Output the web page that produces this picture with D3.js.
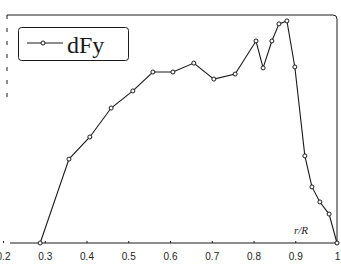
<!DOCTYPE html>
<html><head><meta charset="utf-8">
<script src="https://cdn.jsdelivr.net/npm/d3@7"></script>
<style>html,body{margin:0;padding:0;background:#fff;}</style>
</head><body><svg id="c" width="341" height="270"></svg>
<script>
const rValues = [0.289,0.358,0.408,0.459,0.511,0.559,0.607,0.657,0.705,0.756,0.806,0.823,0.844,0.861,0.880,0.899,0.923,0.940,0.959,0.981,1.0];
const dFyValues = [0,0.368,0.465,0.592,0.667,0.75,0.75,0.789,0.719,0.741,0.886,0.768,0.886,0.961,0.974,0.772,0.382,0.246,0.18,0.127,0];
const tickValues = [0.2,0.3,0.4,0.5,0.6,0.7,0.8,0.9,1];
const tickLabels = ["0.2","0.3","0.4","0.5","0.6","0.7","0.8","0.9","1"];
const seriesName = "dFy";
const xTitle = "r/R";

const svg = d3.select("#c");
const x = d3.scaleLinear().domain([0.2,1]).range([3,337]);
const y = d3.scaleLinear().domain([0,1]).range([243,15]);
const ink = "#1a1a1a";

// frame
svg.append("line").attr("x1",7).attr("x2",333).attr("y1",15).attr("y2",15).attr("stroke",ink).attr("stroke-width",1);
svg.append("path").attr("d","M333,15 Q337,15 337,19 L337,243").attr("fill","none").attr("stroke",ink).attr("stroke-width",1);
svg.append("line").attr("x1",7).attr("x2",7).attr("y1",15).attr("y2",100).attr("stroke",ink).attr("stroke-width",1).attr("stroke-dasharray","4,9");

// x axis
const ax = svg.append("g").attr("transform","translate(0,243)")
  .call(d3.axisBottom(x).tickValues(tickValues).tickFormat((d,i)=>tickLabels[i]).tickSizeInner(-2).tickSizeOuter(0).tickPadding(10));
ax.select(".domain").attr("stroke",ink).attr("stroke-width",1).attr("d","M10,0H337");
ax.selectAll(".tick line").attr("stroke",ink);
ax.selectAll(".tick text").attr("font-family","Liberation Sans, Arial, sans-serif").attr("font-size",10).attr("fill","#222");

// x title
svg.append("text").attr("x",301).attr("y",234).attr("text-anchor","middle")
  .attr("font-family","Liberation Serif, serif").attr("font-style","italic").attr("font-size",11).attr("fill",ink).text(xTitle);

// series
const pts = rValues.map((r,i)=>[r,dFyValues[i]]);
svg.append("path").datum(pts).attr("fill","none").attr("stroke",ink).attr("stroke-width",1.1)
  .attr("d",d3.line().x(d=>x(d[0])).y(d=>y(d[1])));
svg.selectAll("circle.pt").data(pts).join("circle").attr("class","pt")
  .attr("cx",d=>x(d[0])).attr("cy",d=>y(d[1])).attr("r",2).attr("fill","#fff").attr("stroke",ink).attr("stroke-width",1);

// legend
const lg = svg.append("g");
lg.append("rect").attr("x",18.5).attr("y",27.5).attr("width",110).attr("height",33).attr("rx",3).attr("fill","#fff").attr("stroke",ink).attr("stroke-width",1);
lg.append("line").attr("x1",27).attr("x2",63).attr("y1",43).attr("y2",43).attr("stroke",ink).attr("stroke-width",1);
lg.append("circle").attr("cx",43).attr("cy",43).attr("r",2).attr("fill","#fff").attr("stroke",ink);
lg.append("text").attr("x",67).attr("y",53).attr("font-family","Liberation Serif, serif").attr("font-size",24).attr("fill",ink).text(seriesName);
</script></body></html>
